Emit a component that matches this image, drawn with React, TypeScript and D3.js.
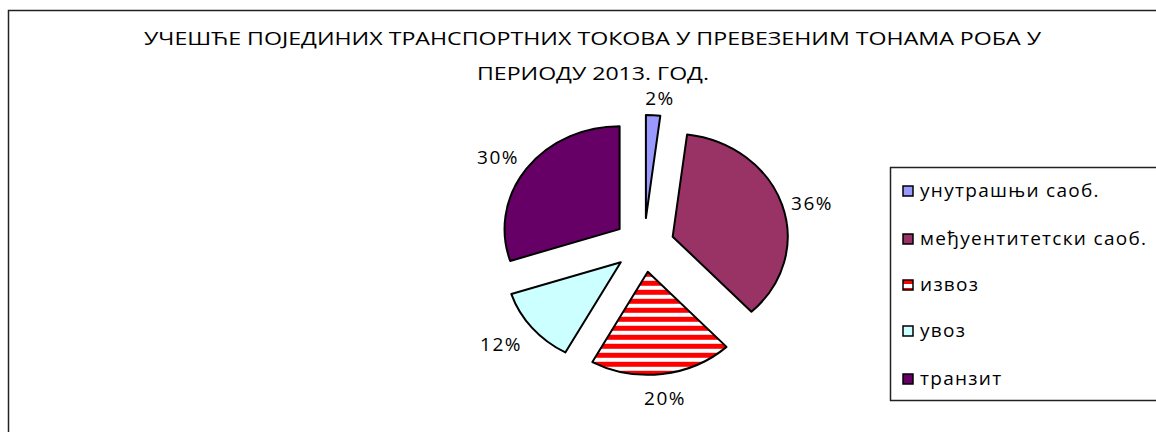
import React from "react";
import * as d3 from "d3";

const titleLines = [
  "УЧЕШЋЕ ПОЈЕДИНИХ ТРАНСПОРТНИХ ТОКОВА У ПРЕВЕЗЕНИМ ТОНАМА РОБА У",
  "ПЕРИОДУ 2013. ГОД.",
];
const categories = [
  "унутрашњи саоб.",
  "међуентитетски саоб.",
  "извоз",
  "увоз",
  "транзит",
];
const values = [2, 36, 20, 12, 30];
const colors = ["#9999FF", "#993366", "url(#stripes)", "#CCFFFF", "#660066"];
const labelPos = [
  [660, 105],
  [812, 210],
  [665, 405],
  [501, 351],
  [498, 164],
];

export default function App() {
  const cx = 644;
  const cy = 245;
  const r = 103;
  const sx = 1.117;
  const explode = 27;
  const pie = d3.pie<number>().sort(null).value((d) => d);
  const arcs = pie(values);
  const arc = d3.arc<d3.PieArcDatum<number>>().innerRadius(0).outerRadius(r);
  const font = "'Open Sans', 'Noto Sans', sans-serif";
  const legendY = [191, 239, 285, 331, 379];

  return (
    <svg
      width={1156}
      height={432}
      style={{ position: "absolute", left: 0, top: 0, background: "#fff" }}
      fontFamily={font}
    >
      <defs>
        <pattern id="stripes" patternUnits="userSpaceOnUse" width={10} height={9}>
          <rect width={10} height={9} fill="#fff" />
          <rect y={0} width={10} height={5} fill="#FF0000" />
        </pattern>
      </defs>
      <rect x={8.5} y={10.5} width={1200} height={500} fill="none" stroke="#222" strokeWidth={1.5} />
      <text x={144} y={44.5} fontSize={19} textLength={897} lengthAdjust="spacingAndGlyphs" fill="#000">
        {titleLines[0]}
      </text>
      <text x={477} y={79.5} fontSize={19} textLength={232} lengthAdjust="spacingAndGlyphs" fill="#000">
        {titleLines[1]}
      </text>
      <g transform={`translate(${cx},${cy}) scale(${sx},1)`}>
        {arcs.map((a, i) => {
          const mid = (a.startAngle + a.endAngle) / 2;
          const dx = explode * Math.sin(mid);
          const dy = -explode * Math.cos(mid);
          return (
            <path
              key={i}
              d={arc(a) || ""}
              transform={`translate(${dx},${dy})`}
              fill={colors[i]}
              stroke="#000"
              strokeWidth={2}
              strokeLinejoin="round"
              vectorEffect="non-scaling-stroke"
            />
          );
        })}
      </g>
      {values.map((v, i) => {
        const s = `${v}%`;
        return (
          <text
            key={i}
            x={labelPos[i][0]}
            y={labelPos[i][1]}
            fontSize={19}
            textAnchor="middle"
            letterSpacing={1.5}
            fill="#000"
          >
            {s}
          </text>
        );
      })}
      <rect x={890.5} y={167.5} width={400} height={233} fill="#fff" stroke="#222" strokeWidth={1.5} />
      {categories.map((c, i) => (
        <g key={c}>
          <rect x={903} y={legendY[i] - 5} width={10} height={10} fill={colors[i]} stroke="#000" strokeWidth={1.5} />
          <text x={920} y={legendY[i] + 6} fontSize={19} letterSpacing={1.3} fill="#000">
            {c}
          </text>
        </g>
      ))}
    </svg>
  );
}
